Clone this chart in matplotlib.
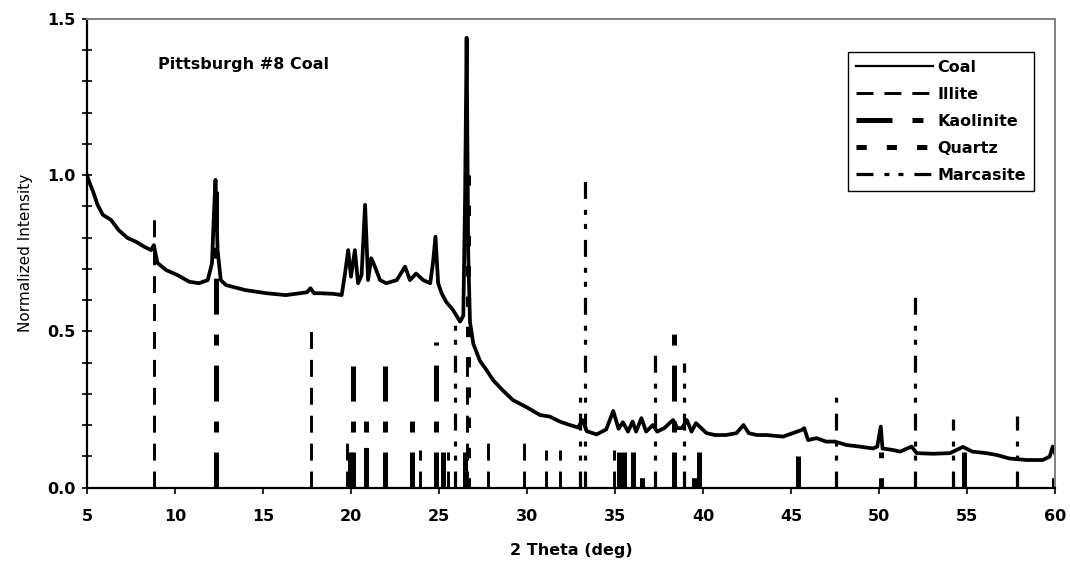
import matplotlib
matplotlib.use('Agg')
import matplotlib.pyplot as plt
from matplotlib.lines import Line2D
from matplotlib.ticker import MultipleLocator

plt.rcParams['lines.scale_dashes'] = False
plt.rcParams['font.family'] = ['DejaVu Sans']

# ---- Coal XRD trace ----
coal_x = [5.0, 5.15, 5.33, 5.6, 5.9, 6.36, 6.8, 7.3, 7.78, 8.25, 8.64, 8.8, 9.0, 9.5,
          10.15, 10.8, 11.36, 11.86, 12.1, 12.2, 12.3, 12.42, 12.6, 12.9, 14.0, 15.2,
          16.3, 17.1, 17.5, 17.7, 17.9, 18.24, 19.0, 19.47, 19.66, 19.84, 20.0, 20.22,
          20.4, 20.6, 20.8, 20.97, 21.15, 21.36, 21.65, 22.0, 22.6, 23.07, 23.35, 23.7,
          24.1, 24.5, 24.66, 24.8, 24.95, 25.15, 25.4, 25.8, 26.2, 26.38, 26.48, 26.57,
          26.66, 26.76, 26.95, 27.33, 27.7, 28.07, 28.64, 29.2, 29.98, 30.74, 31.3,
          31.87, 32.44, 32.9, 33.15, 33.4, 33.96, 34.5, 34.9, 35.2, 35.45, 35.74, 36.0,
          36.2, 36.5, 36.77, 37.15, 37.4, 37.8, 38.1, 38.3, 38.55, 38.8, 39.08, 39.35,
          39.6, 39.9, 40.2, 40.68, 41.3, 41.9, 42.3, 42.6, 43.05, 43.6, 44.55, 45.1,
          45.6, 45.75, 45.97, 46.45, 47.0, 47.5, 48.16, 48.9, 49.66, 49.9, 50.1, 50.2,
          50.8, 51.2, 51.85, 52.14, 53.07, 54.03, 54.77, 55.3, 56.1, 56.7, 57.4, 58.4,
          59.3, 59.7, 59.87, 60.0]
coal_y = [1.0, 0.975, 0.95, 0.905, 0.873, 0.857, 0.824, 0.799, 0.787, 0.771, 0.760, 0.776,
          0.719, 0.696, 0.680, 0.659, 0.654, 0.664, 0.718, 0.86, 0.985, 0.76, 0.664,
          0.648, 0.632, 0.622, 0.616, 0.622, 0.625, 0.638, 0.622, 0.622, 0.620, 0.616,
          0.685, 0.760, 0.675, 0.760, 0.654, 0.680, 0.905, 0.664, 0.734, 0.707, 0.664,
          0.654, 0.664, 0.707, 0.664, 0.685, 0.664, 0.654, 0.720, 0.803, 0.654, 0.622,
          0.595, 0.568, 0.531, 0.55, 0.92, 1.44, 0.75, 0.53, 0.46, 0.405, 0.376, 0.344,
          0.310, 0.280, 0.257, 0.232, 0.227, 0.211, 0.200, 0.192, 0.216, 0.180, 0.170,
          0.186, 0.245, 0.188, 0.209, 0.179, 0.211, 0.179, 0.222, 0.179, 0.200, 0.179,
          0.190, 0.206, 0.216, 0.190, 0.190, 0.216, 0.179, 0.206, 0.190, 0.174, 0.168,
          0.168, 0.174, 0.200, 0.174, 0.168, 0.168, 0.163, 0.174, 0.184, 0.190, 0.152,
          0.158, 0.147, 0.147, 0.136, 0.131, 0.125, 0.131, 0.195, 0.125, 0.120, 0.115,
          0.131, 0.110, 0.108, 0.110, 0.130, 0.115, 0.110, 0.104, 0.093, 0.088, 0.088,
          0.099, 0.131, 0.110]

# ---- Reference stick patterns (2-theta, relative height) ----
illite_x = [8.8, 17.7, 19.8, 23.9, 25.5, 26.6, 27.8, 29.85, 31.1, 31.9, 34.95]
illite_h = [0.87, 0.50, 0.145, 0.12, 0.115, 0.43, 0.147, 0.147, 0.12, 0.12, 0.12]

kaolinite_x = [12.35, 19.95, 20.1, 20.85, 21.95, 23.45, 24.85, 25.2, 26.45, 35.2, 35.5,
               36.05, 38.35, 39.75, 45.4, 54.85]
kaolinite_h = [0.95, 0.145, 0.39, 0.22, 0.39, 0.22, 0.465, 0.115, 0.13, 0.115, 0.115,
               0.115, 0.49, 0.115, 0.10, 0.12]

quartz_x = [20.86, 26.64, 36.54, 39.47, 50.14, 59.96]
quartz_h = [0.13, 1.0, 0.09, 0.08, 0.115, 0.09]

marcasite_x = [25.9, 33.0, 33.3, 37.3, 38.9, 47.55, 52.05, 54.2, 57.85]
marcasite_h = [0.52, 0.30, 1.0, 0.435, 0.40, 0.296, 0.62, 0.22, 0.23]

series_labels = ['Coal', 'Illite', 'Kaolinite', 'Quartz', 'Marcasite']
x_ticks = [5, 10, 15, 20, 25, 30, 35, 40, 45, 50, 55, 60]
y_ticks = [0.0, 0.5, 1.0, 1.5]

# ---- styles ----
coal_style = dict(color='black', lw=2.7)
illite_style = dict(color='black', lw=2.1, dashes=(12.2, 7.9))
kaol_style = dict(color='black', lw=3.6, dashes=(25.9, 14.4, 7.9, 14.4))
quartz_style = dict(color='black', lw=3.6, dashes=(7.4, 14.4))
marc_style = dict(color='black', lw=2.3, dashes=(12.2, 7.9, 3.6, 6.5, 3.6, 7.9))

W, H = 1070, 567
fig = plt.figure(figsize=(W / 100, H / 100), dpi=100)
L, R, B, T = 87, 1055, 487.5, 19
ax = fig.add_axes([L / W, 1 - B / H, (R - L) / W, (B - T) / H])


def sticks(xs, hs, style):
    for x, h in zip(xs, hs):
        ax.plot([x, x], [0, h], solid_capstyle='butt', dash_capstyle='butt', **style)


sticks(illite_x, illite_h, illite_style)
sticks(kaolinite_x, kaolinite_h, kaol_style)
sticks(quartz_x, quartz_h, quartz_style)
sticks(marcasite_x, marcasite_h, marc_style)
ax.plot(coal_x, coal_y, solid_joinstyle='round', **coal_style)

ax.set_xlim(5, 60)
ax.set_ylim(0, 1.5)
ax.set_xticks(x_ticks)
ax.set_yticks(y_ticks)
ax.yaxis.set_minor_locator(MultipleLocator(0.1))
ax.set_xticklabels([str(v) for v in x_ticks], fontsize=11.5, fontweight='bold')
ax.set_yticklabels([f'{v:.1f}' for v in y_ticks], fontsize=11.5, fontweight='bold')
ax.tick_params(axis='x', direction='out', length=4.5, width=1.2, pad=11)
ax.tick_params(axis='y', which='both', direction='inout', length=7, width=1.2, pad=5)

for s in ['left', 'bottom']:
    ax.spines[s].set_color('black')
    ax.spines[s].set_linewidth(1.6)
for s in ['top', 'right']:
    ax.spines[s].set_color('#808080')
    ax.spines[s].set_linewidth(1.4)

ax.set_xlabel('2 Theta (deg)', fontsize=11.5, fontweight='bold', labelpad=14)
ax.set_ylabel('Normalized Intensity', fontsize=11, labelpad=10)

ax.text((158 - L) / (R - L), (B - 65) / (B - T), 'Pittsburgh #8 Coal',
        transform=ax.transAxes, fontsize=11.5, fontweight='bold', va='center', ha='left')

handles = [Line2D([], [], color='black', lw=1.6),
           Line2D([], [], dash_capstyle='butt', **illite_style),
           Line2D([], [], dash_capstyle='butt', **kaol_style),
           Line2D([], [], dash_capstyle='butt', **quartz_style),
           Line2D([], [], dash_capstyle='butt', **marc_style)]
leg = ax.legend(handles, series_labels, loc='upper right',
                bbox_to_anchor=((1034 - L) / (R - L), (B - 52) / (B - T)),
                borderaxespad=0, prop={'weight': 'bold', 'size': 11.5},
                handlelength=4.8, handletextpad=0.3, labelspacing=0.75,
                borderpad=0.5, fancybox=False, framealpha=1, edgecolor='black')
leg.get_frame().set_linewidth(1.0)

fig.savefig('out.png', dpi=100)
